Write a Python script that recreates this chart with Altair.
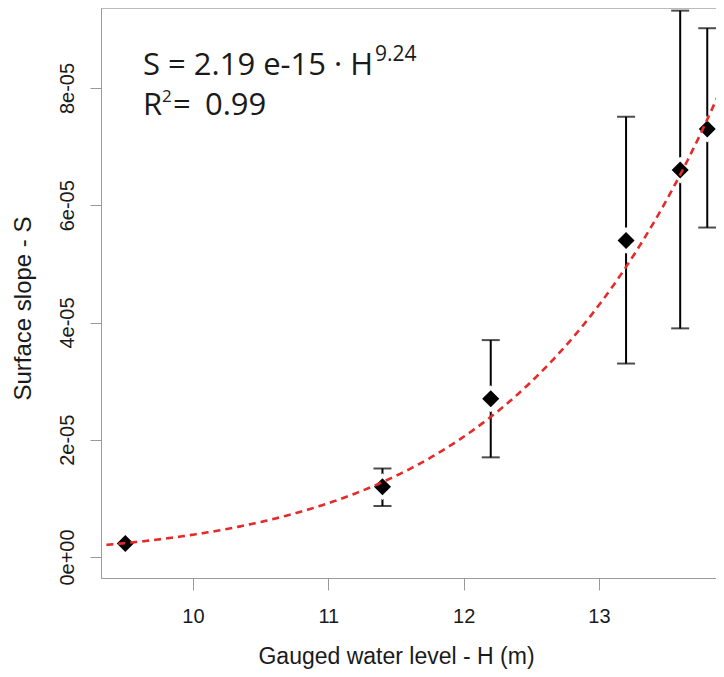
import json
import altair as alt
import pandas as pd

# ---- data ----
level_h = [9.5, 11.4, 12.2, 13.2, 13.6, 13.8]
slope_s = [2.3e-6, 1.2e-5, 2.7e-5, 5.4e-5, 6.6e-5, 7.3e-5]
slope_lo = [None, 0.87e-5, 1.70e-5, 3.30e-5, 3.90e-5, 5.62e-5]
slope_hi = [None, 1.51e-5, 3.70e-5, 7.51e-5, 9.32e-5, 9.02e-5]

fit_coef = 2.19e-15
fit_exp = 9.24
fit_h_start = 9.36
fit_h_end = 13.95

x_ticks = [10, 11, 12, 13]
y_ticks = [0, 2e-5, 4e-5, 6e-5, 8e-5]
y_tick_labels = ["0e+00", "2e-05", "4e-05", "6e-05", "8e-05"]

x_domain = [9.3202, 13.8646]
y_domain = [-3.58e-6, 9.365e-5]

W, H = 615, 570
GRAY = "#9a9a9a"
INK = "#1a1a1a"
RED = "#e52a2a"

df = pd.DataFrame({"H": level_h, "S": slope_s, "lo": slope_lo, "hi": slope_hi})

xs = alt.Scale(domain=x_domain, nice=False, zero=False)
ys = alt.Scale(domain=y_domain, nice=False, zero=False)

x_axis = alt.Axis(
    values=x_ticks, format="d", grid=False,
    domainColor=GRAY, tickColor=GRAY, tickSize=12,
    labelFont="Liberation Sans", labelFontSize=20, labelColor=INK, labelPadding=16,
    title="Gauged water level - H (m)", titleFont="Liberation Sans", titleFontSize=23,
    titleFontWeight="normal", titleColor=INK, titleX=295, titleY=85,
    titleBaseline="alphabetic", titleAlign="center",
)
label_expr = json.dumps(y_tick_labels) + "[round(datum.value / 2e-5)]"
y_axis = alt.Axis(
    values=y_ticks, labelExpr=label_expr, grid=False,
    domainColor=GRAY, tickColor=GRAY, tickSize=11,
    labelFont="Liberation Sans", labelFontSize=20, labelColor=INK, labelPadding=17,
    labelAngle=270, labelAlign="center", labelBaseline="alphabetic",
    title="Surface slope - S", titleFont="Liberation Sans", titleFontSize=24,
    titleFontWeight="normal", titleColor=INK, titleAngle=270, titleX=-71, titleY=300,
    titleBaseline="alphabetic", titleAlign="center",
)

base = alt.Chart(df)

err = base.transform_filter("isValid(datum.lo)")
bars = err.mark_rule(color="black", strokeWidth=2).encode(
    x=alt.X("H:Q", scale=xs, axis=x_axis),
    y=alt.Y("lo:Q", scale=ys, axis=y_axis),
    y2="hi:Q",
)
cap_lo = err.mark_tick(color="black", thickness=2, size=18, orient="horizontal").encode(
    x=alt.X("H:Q", scale=xs), y=alt.Y("lo:Q", scale=ys))
cap_hi = err.mark_tick(color="black", thickness=2, size=18, orient="horizontal").encode(
    x=alt.X("H:Q", scale=xs), y=alt.Y("hi:Q", scale=ys))

halo = err.mark_point(
    shape="diamond", filled=True, color="white", size=720, opacity=1
).encode(x=alt.X("H:Q", scale=xs), y=alt.Y("S:Q", scale=ys))

pts = base.mark_point(shape="diamond", filled=True, color="black", size=290, opacity=1).encode(
    x=alt.X("H:Q", scale=xs), y=alt.Y("S:Q", scale=ys))

curve = (
    alt.Chart(alt.sequence(fit_h_start, fit_h_end, 0.01, as_="H"))
    .transform_calculate(S=f"{fit_coef} * pow(datum.H, {fit_exp})")
    .mark_line(color=RED, strokeWidth=2.6, strokeDash=[7, 5], clip=True)
    .encode(x=alt.X("H:Q", scale=xs), y=alt.Y("S:Q", scale=ys), order="H:Q")
)

one = alt.Data(values=[{}])
top_line = alt.Chart(one).mark_rule(color=GRAY, strokeWidth=1).encode(
    x=alt.value(0), x2=alt.value(W), y=alt.value(0))

def label(txt, x, y, size):
    return alt.Chart(one).mark_text(
        font="Open Sans", fontSize=size, color=INK, align="left", baseline="alphabetic"
    ).encode(x=alt.value(x), y=alt.value(y), text=alt.value(txt))

ann = (
    label("S = 2.19 e-15 \u00b7 H", 42, 67, 31)
    + label("9.24", 274, 53, 21)
    + label("R", 42, 107, 31)
    + label("2", 61, 94, 17)
    + label("=", 72, 107, 31)
    + label("0.99", 104, 107, 31)
)

chart = (
    alt.layer(bars, cap_lo, cap_hi, halo, pts, curve, top_line, ann)
    .properties(width=W, height=H, autosize="none",
                padding={"left": 93, "top": 0, "right": 0, "bottom": 91})
    .configure_view(stroke=None)
    .configure(background="white")
)

chart.save("out.html", embed_options={"renderer": "svg", "actions": False})
